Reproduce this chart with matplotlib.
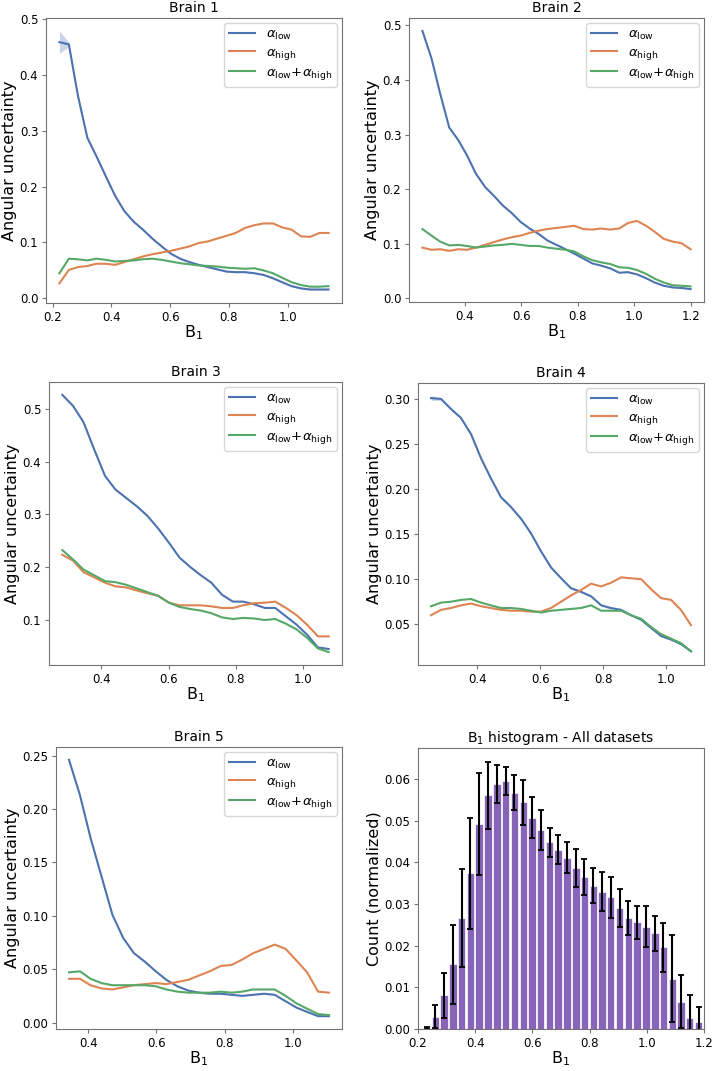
#!/usr/bin/env python3
"""Angular uncertainty vs B1 for five brains, plus the pooled B1 histogram."""

import matplotlib

matplotlib.use("Agg")
import matplotlib.pyplot as plt  # noqa: E402

FIG_W, FIG_H = 715, 1071

COLOR_LOW = "#4C72B0"
COLOR_HIGH = "#DD8452"
COLOR_BOTH = "#55A868"
COLOR_HIST = "#8764B8"

LABEL_LOW = r"$\alpha_{\mathrm{low}}$"
LABEL_HIGH = r"$\alpha_{\mathrm{high}}$"
LABEL_BOTH = r"$\alpha_{\mathrm{low}}$+$\alpha_{\mathrm{high}}$"

# --- Brain 1 ---
brain1_b1 = [0.223, 0.255, 0.286, 0.318, 0.349, 0.381, 0.413, 0.444, 0.476, 0.507,
             0.539, 0.571, 0.602, 0.634, 0.665, 0.697, 0.729, 0.760, 0.792, 0.823,
             0.855, 0.887, 0.918, 0.950, 0.981, 1.013, 1.045, 1.076, 1.108, 1.139]
brain1_low = [0.458, 0.454, 0.362, 0.287, 0.254, 0.218, 0.183, 0.156, 0.137, 0.123,
              0.107, 0.093, 0.080, 0.071, 0.065, 0.060, 0.056, 0.052, 0.048, 0.047,
              0.047, 0.045, 0.042, 0.036, 0.029, 0.022, 0.018, 0.016, 0.016, 0.016]
brain1_low_sd = [0.020, 0.004, 0.002, 0.002, 0.002, 0.002, 0.001, 0.001, 0.001, 0.001,
                 0.001, 0.001, 0.001, 0.001, 0.001, 0.001, 0.001, 0.001, 0.001, 0.001,
                 0.001, 0.001, 0.001, 0.001, 0.001, 0.001, 0.001, 0.001, 0.001, 0.001]
brain1_high = [0.027, 0.051, 0.056, 0.058, 0.062, 0.062, 0.060, 0.065, 0.070, 0.075,
               0.079, 0.082, 0.085, 0.089, 0.093, 0.099, 0.102, 0.107, 0.112, 0.117,
               0.126, 0.131, 0.134, 0.134, 0.127, 0.123, 0.111, 0.110, 0.117, 0.117]
brain1_both = [0.045, 0.071, 0.070, 0.068, 0.071, 0.069, 0.066, 0.067, 0.068, 0.070,
               0.071, 0.069, 0.066, 0.063, 0.061, 0.059, 0.058, 0.057, 0.055, 0.054,
               0.053, 0.054, 0.050, 0.045, 0.037, 0.029, 0.024, 0.021, 0.021, 0.022]

# --- Brain 2 ---
brain2_b1 = [0.250, 0.282, 0.313, 0.345, 0.377, 0.408, 0.440, 0.472, 0.503, 0.535,
             0.567, 0.598, 0.630, 0.662, 0.693, 0.725, 0.757, 0.788, 0.820, 0.852,
             0.883, 0.915, 0.947, 0.978, 1.010, 1.042, 1.073, 1.105, 1.137, 1.168, 1.200]
brain2_low = [0.490, 0.440, 0.375, 0.313, 0.290, 0.262, 0.228, 0.204, 0.188, 0.170,
              0.156, 0.140, 0.128, 0.118, 0.106, 0.098, 0.090, 0.082, 0.073, 0.064,
              0.060, 0.055, 0.047, 0.048, 0.044, 0.037, 0.029, 0.023, 0.020, 0.019, 0.017]
brain2_high = [0.093, 0.089, 0.090, 0.087, 0.090, 0.089, 0.093, 0.098, 0.103, 0.108,
               0.112, 0.115, 0.120, 0.124, 0.127, 0.129, 0.131, 0.133, 0.127, 0.126,
               0.128, 0.126, 0.128, 0.138, 0.142, 0.133, 0.122, 0.109, 0.104, 0.101, 0.090]
brain2_both = [0.127, 0.115, 0.104, 0.097, 0.098, 0.096, 0.093, 0.095, 0.097, 0.098,
               0.100, 0.098, 0.096, 0.096, 0.093, 0.091, 0.089, 0.086, 0.077, 0.070,
               0.066, 0.063, 0.057, 0.056, 0.052, 0.045, 0.036, 0.029, 0.024, 0.023, 0.022]

# --- Brain 3 ---
brain3_b1 = [0.284, 0.316, 0.347, 0.379, 0.411, 0.442, 0.474, 0.506, 0.537, 0.569,
             0.601, 0.632, 0.664, 0.696, 0.727, 0.759, 0.791, 0.822, 0.854, 0.886,
             0.917, 0.949, 0.981, 1.012, 1.044, 1.076]
brain3_low = [0.527, 0.506, 0.475, 0.423, 0.373, 0.347, 0.331, 0.315, 0.297, 0.273,
              0.246, 0.218, 0.200, 0.184, 0.170, 0.147, 0.134, 0.134, 0.129, 0.122,
              0.122, 0.106, 0.090, 0.071, 0.047, 0.044]
brain3_high = [0.223, 0.212, 0.190, 0.180, 0.170, 0.163, 0.161, 0.155, 0.150, 0.145,
               0.132, 0.127, 0.127, 0.127, 0.125, 0.122, 0.122, 0.127, 0.131, 0.132,
               0.134, 0.122, 0.108, 0.090, 0.068, 0.068]
brain3_both = [0.232, 0.214, 0.195, 0.184, 0.173, 0.171, 0.166, 0.159, 0.152, 0.145,
               0.132, 0.124, 0.120, 0.117, 0.112, 0.104, 0.101, 0.103, 0.102, 0.099,
               0.101, 0.092, 0.081, 0.065, 0.045, 0.038]

# --- Brain 4 ---
brain4_b1 = [0.253, 0.285, 0.316, 0.348, 0.380, 0.412, 0.443, 0.475, 0.507, 0.539,
             0.570, 0.602, 0.634, 0.666, 0.697, 0.729, 0.761, 0.793, 0.824, 0.856,
             0.888, 0.920, 0.951, 0.983, 1.015, 1.046, 1.078]
brain4_low = [0.301, 0.300, 0.289, 0.279, 0.261, 0.234, 0.212, 0.191, 0.180, 0.167,
              0.151, 0.131, 0.113, 0.101, 0.090, 0.086, 0.081, 0.071, 0.068, 0.066,
              0.060, 0.055, 0.046, 0.037, 0.033, 0.028, 0.020]
brain4_low_sd = [0.0025, 0.0015, 0.001, 0.001, 0.001, 0.001, 0.001, 0.001, 0.001, 0.001,
                 0.001, 0.001, 0.001, 0.001, 0.001, 0.001, 0.001, 0.001, 0.001, 0.001,
                 0.001, 0.001, 0.001, 0.001, 0.001, 0.001, 0.001]
brain4_high = [0.060, 0.066, 0.068, 0.071, 0.073, 0.070, 0.068, 0.066, 0.065, 0.065,
               0.064, 0.064, 0.068, 0.075, 0.082, 0.088, 0.095, 0.092, 0.096, 0.102,
               0.101, 0.100, 0.089, 0.079, 0.077, 0.066, 0.049]
brain4_both = [0.070, 0.074, 0.075, 0.077, 0.078, 0.074, 0.071, 0.068, 0.068, 0.067,
               0.065, 0.063, 0.065, 0.066, 0.067, 0.068, 0.071, 0.065, 0.065, 0.065,
               0.060, 0.056, 0.047, 0.039, 0.034, 0.029, 0.020]

# --- Brain 5 ---
brain5_b1 = [0.344, 0.376, 0.407, 0.439, 0.471, 0.503, 0.534, 0.566, 0.598, 0.629,
             0.661, 0.693, 0.724, 0.756, 0.788, 0.820, 0.851, 0.883, 0.915, 0.946,
             0.978, 1.010, 1.041, 1.073, 1.105]
brain5_low = [0.246, 0.213, 0.173, 0.137, 0.101, 0.079, 0.065, 0.057, 0.048, 0.040,
              0.034, 0.030, 0.028, 0.027, 0.027, 0.026, 0.025, 0.026, 0.027, 0.026,
              0.020, 0.014, 0.010, 0.006, 0.006]
brain5_high = [0.041, 0.041, 0.035, 0.032, 0.031, 0.033, 0.035, 0.036, 0.037, 0.036,
               0.038, 0.040, 0.044, 0.048, 0.053, 0.054, 0.059, 0.065, 0.069, 0.073,
               0.069, 0.058, 0.047, 0.029, 0.028]
brain5_both = [0.047, 0.048, 0.041, 0.037, 0.035, 0.035, 0.035, 0.035, 0.034, 0.031,
               0.029, 0.028, 0.028, 0.028, 0.029, 0.028, 0.029, 0.031, 0.031, 0.031,
               0.025, 0.018, 0.013, 0.008, 0.007]

# --- B1 histogram, all datasets ---
hist_b1 = [0.230, 0.261, 0.291, 0.322, 0.353, 0.383, 0.414, 0.445, 0.476, 0.506,
           0.537, 0.568, 0.598, 0.629, 0.660, 0.690, 0.721, 0.752, 0.782, 0.813,
           0.844, 0.874, 0.905, 0.936, 0.966, 0.997, 1.028, 1.058, 1.089, 1.120,
           1.150, 1.181]
hist_count = [0.0002, 0.0030, 0.0081, 0.0155, 0.0267, 0.0374, 0.0492, 0.0561, 0.0588, 0.0595,
              0.0568, 0.0545, 0.0508, 0.0477, 0.0448, 0.0431, 0.0411, 0.0387, 0.0366, 0.0344,
              0.0330, 0.0316, 0.0290, 0.0267, 0.0256, 0.0246, 0.0230, 0.0196, 0.0121, 0.0066,
              0.0027, 0.0017]
hist_err = [0.0003, 0.0028, 0.0054, 0.0095, 0.0118, 0.0134, 0.0122, 0.0081, 0.0046, 0.0034,
            0.0042, 0.0054, 0.0050, 0.0048, 0.0036, 0.0034, 0.0037, 0.0046, 0.0043, 0.0042,
            0.0046, 0.0050, 0.0046, 0.0041, 0.0040, 0.0049, 0.0042, 0.0058, 0.0105, 0.0064,
            0.0055, 0.0035]
hist_bar_width = 0.026


def px_rect(left, top, right, bottom):
    """Axes rectangle in figure fractions from pixel edges."""
    return [left / FIG_W, 1 - bottom / FIG_H, (right - left) / FIG_W, (bottom - top) / FIG_H]


def style_axes(ax):
    for spine in ax.spines.values():
        spine.set_color("0.45")
    ax.tick_params(colors="0.45", labelcolor="black", labelsize=8.5, length=3, pad=2.5)


def label_axes(ax, title, ylabel):
    ax.set_title(title, fontsize=10, pad=4)
    ax.set_xlabel(r"B$_1$", fontsize=11.5, labelpad=0)
    ax.set_ylabel(ylabel, fontsize=11.5, labelpad=2)


def brain_panel(ax, title, b1, low, high, both, low_sd=None):
    ax.plot(b1, low, color=COLOR_LOW, lw=1.5, label=LABEL_LOW)
    if low_sd is not None:
        lo = [v - s for v, s in zip(low, low_sd)]
        hi = [v + s for v, s in zip(low, low_sd)]
        ax.fill_between(b1, lo, hi, color=COLOR_LOW, alpha=0.3, lw=0)
    ax.plot(b1, high, color=COLOR_HIGH, lw=1.5, label=LABEL_HIGH)
    ax.plot(b1, both, color=COLOR_BOTH, lw=1.5, label=LABEL_BOTH)
    label_axes(ax, title, "Angular uncertainty")
    ax.legend(loc="upper right", fontsize=9.5, handlelength=2.0, borderpad=0.35,
              labelspacing=0.3, borderaxespad=0.4, framealpha=0.8)
    style_axes(ax)


def main():
    fig = plt.figure(figsize=(FIG_W / 100, FIG_H / 100), dpi=100)

    ax1 = fig.add_axes(px_rect(46, 18, 342, 303))
    brain_panel(ax1, "Brain 1", brain1_b1, brain1_low, brain1_high, brain1_both, brain1_low_sd)
    ax1.set_xticks([0.2, 0.4, 0.6, 0.8, 1.0])

    ax2 = fig.add_axes(px_rect(409, 18, 704, 302))
    brain_panel(ax2, "Brain 2", brain2_b1, brain2_low, brain2_high, brain2_both)
    ax2.set_xticks([0.4, 0.6, 0.8, 1.0, 1.2])

    ax3 = fig.add_axes(px_rect(49, 382, 342, 665))
    brain_panel(ax3, "Brain 3", brain3_b1, brain3_low, brain3_high, brain3_both)
    ax3.set_xticks([0.4, 0.6, 0.8, 1.0])

    ax4 = fig.add_axes(px_rect(418, 383, 704, 665))
    brain_panel(ax4, "Brain 4", brain4_b1, brain4_low, brain4_high, brain4_both, brain4_low_sd)
    ax4.set_xticks([0.4, 0.6, 0.8, 1.0])

    ax5 = fig.add_axes(px_rect(56, 747, 342, 1029))
    brain_panel(ax5, "Brain 5", brain5_b1, brain5_low, brain5_high, brain5_both)
    ax5.set_xticks([0.4, 0.6, 0.8, 1.0])

    ax6 = fig.add_axes(px_rect(418, 748, 704, 1029))
    ax6.bar(hist_b1, hist_count, width=hist_bar_width, color=COLOR_HIST,
            edgecolor="white", linewidth=0.5)
    ax6.errorbar(hist_b1, hist_count, yerr=hist_err, fmt="none", ecolor="black",
                 elinewidth=1.5, capsize=2.2, capthick=1.3)
    ax6.set_xlim(0.2, 1.2)
    ax6.set_ylim(0, 0.0675)
    ax6.set_xticks([0.2, 0.4, 0.6, 0.8, 1.0, 1.2])
    label_axes(ax6, r"B$_1$ histogram - All datasets", "Count (normalized)")
    style_axes(ax6)

    fig.savefig("out.png", dpi=100, facecolor="white")
    plt.close(fig)


if __name__ == "__main__":
    main()
